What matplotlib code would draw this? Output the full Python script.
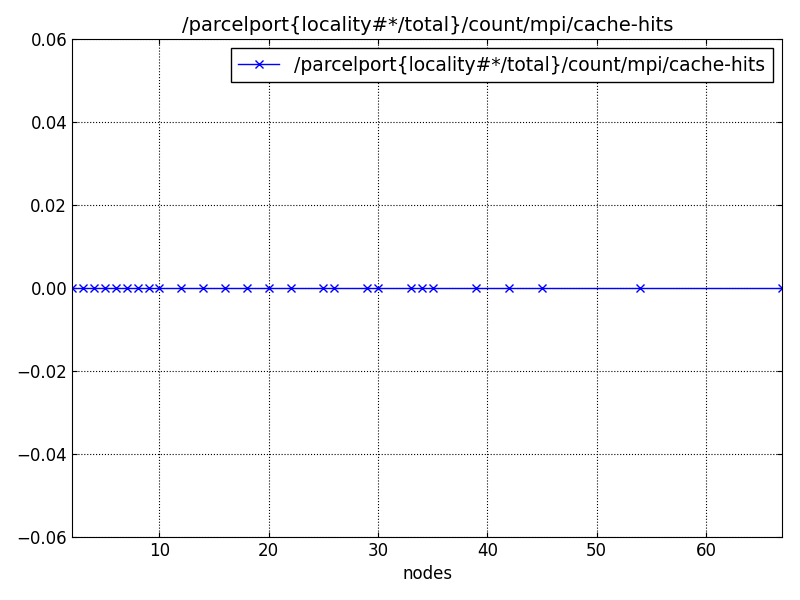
import matplotlib
matplotlib.use("Agg")
import matplotlib.pyplot as plt
import numpy as np

name = "/parcelport{locality#*/total}/count/mpi/cache-hits"
nodes = [2, 3, 4, 5, 6, 7, 8, 9, 10, 12, 14, 16, 18, 20, 22, 25, 26, 29, 30,
         33, 34, 35, 39, 42, 45, 54, 67]
values = [0.0] * len(nodes)

plt.rcParams["font.family"] = "DejaVu Sans"
fig, ax = plt.subplots(figsize=(8, 6), dpi=100)
ax.plot(nodes, values, color="blue", marker="x", markersize=6, linewidth=1,
        label=name)
ax.set_xlim(2, 67)
ax.set_ylim(-0.06, 0.06)
yt = np.arange(-0.06, 0.061, 0.02)
ax.set_yticks(yt)
ax.set_yticklabels([f"{v:.2f}".replace("-", "\u2212") for v in yt])
ax.set_xlabel("nodes", fontsize=12)
ax.set_title(name, fontsize=14)
ax.grid(True, color="black", linestyle=":", linewidth=0.8)
ax.tick_params(direction="in", top=True, right=True, labelsize=12)
ax.legend(loc="upper right", fontsize=13.5, fancybox=False, edgecolor="black",
          framealpha=1, handlelength=2.2)
fig.subplots_adjust(left=0.09, right=0.978, bottom=0.105, top=0.935)
fig.savefig("out.png", dpi=100)
